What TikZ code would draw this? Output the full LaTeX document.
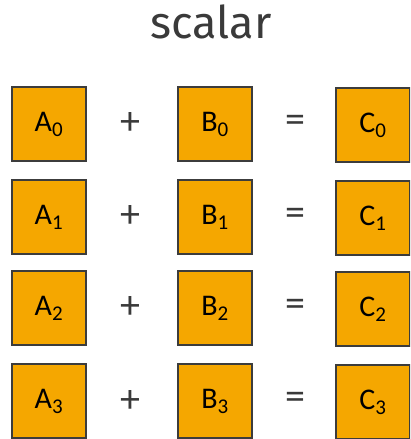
\documentclass[tikz,border=0pt]{standalone}
\usepackage{fontspec}
\setmainfont{Carlito}
\newfontfamily\titlefont{Fira Sans}
\usetikzlibrary{positioning}

\definecolor{cellfill}{HTML}{F5A700}
\definecolor{cellline}{HTML}{3C3C3C}
\definecolor{textgray}{HTML}{3A3A3A}

\tikzset{
  cell/.style={draw=cellline, fill=cellfill, line width=2pt, minimum size=74pt,
    inner sep=0pt, font=\fontsize{30}{30}\selectfont},
  opsign/.style={text=textgray, font=\fontsize{40}{40}\selectfont}
}

\begin{document}
\begin{tikzpicture}[x=1pt, y=-1pt]
  \def\xa{49}
  \def\xb{215}
  \def\xc{373}

  \useasboundingbox (0,0) rectangle (410,439);
  \clip (0,0) rectangle (410,439);

  \node[text=textgray, font=\titlefont\fontsize{45}{45}\selectfont] (title) at (211,22) {scalar};

  \foreach \i/\y in {0/124, 1/217, 2/308, 3/401} {
    \node[cell] (a\i) at (\xa,\y) {A\textsubscript{\i}};
    \node[cell] (b\i) at (\xb,\y) {B\textsubscript{\i}};
    \node[cell] (c\i) at (\xc,\y+1) {C\textsubscript{\i}};
    \node[opsign] (plus\i) at (130,\y) {+};
    \node[opsign] (eq\i) at (295,\y) {=};
  }
\end{tikzpicture}
\end{document}
